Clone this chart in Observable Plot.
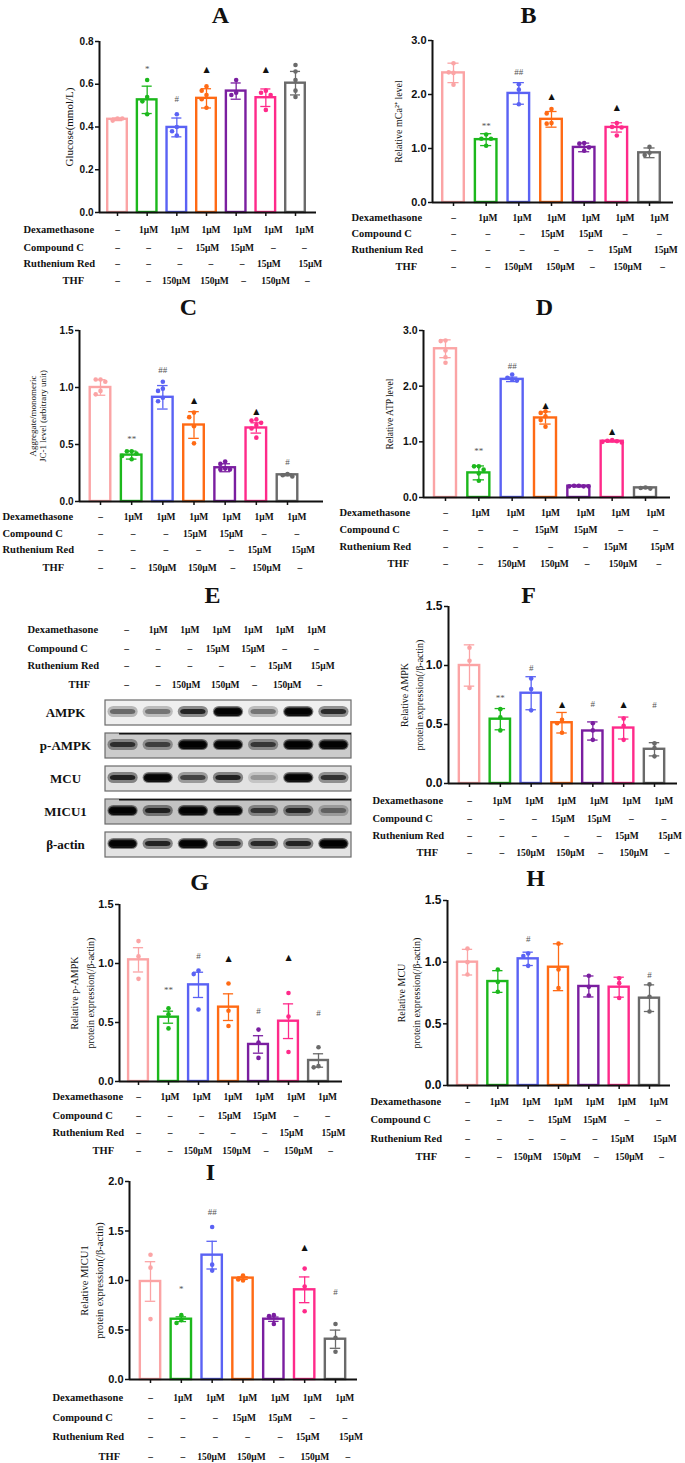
<!DOCTYPE html>
<html><head><meta charset="utf-8">
<script src="https://cdn.jsdelivr.net/npm/d3@7"></script>
<script src="https://cdn.jsdelivr.net/npm/@observablehq/plot@0.6"></script>
<style>
html,body{margin:0;padding:0;background:#fff;}
#page{position:relative;width:685px;height:1463px;overflow:hidden;background:#fff;}
</style></head><body><div id="page"></div>
<script>
// ---------------- DATA ----------------
const groups = ["Control","Dex","Dex+THF","Dex+THF+CC","Dex+CC","Dex+THF+RR","Dex+RR"];
const rowLabels = ["Dexamethasone","Compound C","Ruthenium Red","THF"];
const dexRow  = ["–","1μM","1μM","1μM","1μM","1μM","1μM"];
const ccRow   = ["–","–","–","15μM","15μM","–","–"];
const rrRow   = ["–","–","–","–","–","15μM","15μM"];
const thfRow  = ["–","–","150μM","150μM","–","150μM","–"];
const tableRows = [dexRow, ccRow, rrRow, thfRow];

// A: Glucose
const aMean = [0.436,0.527,0.398,0.534,0.568,0.537,0.605];
const aErr  = [0.006,0.064,0.044,0.045,0.038,0.041,0.055];
const aPts  = [[0.44,0.43,0.44],[0.62,0.54,0.52,0.46],[0.46,0.40,0.38,0.36],[0.59,0.57,0.55,0.53,0.49],[0.62,0.56,0.55],[0.57,0.56,0.55,0.48],[0.69,0.66,0.62,0.57,0.54]];
const aSig  = ["","*","#","▲","","▲",""];
const aSigY = [0,0.672,0.53,0.668,0,0.671,0];
// B: mCa2+
const bMean = [2.40,1.164,2.02,1.54,1.02,1.39,0.92];
const bErr  = [0.18,0.11,0.20,0.145,0.08,0.086,0.09];
const bPts  = [[2.58,2.40,2.41,2.18],[1.26,1.18,1.18,1.05],[2.19,2.09,1.82],[1.73,1.65,1.47,1.46],[1.10,1.09,1.02,0.96],[1.47,1.40,1.39,1.24],[1.03,0.92,0.88]];
const bSig  = ["","**","##","▲","","▲",""];
const bSigY = [0,1.417,2.415,1.965,0,1.768,0];
// C: JC-1
const cMean = [1.0,0.407,0.914,0.671,0.296,0.645,0.234];
const cErr  = [0.068,0.035,0.103,0.117,0.035,0.045,0.008];
const cPts  = [[1.07,1.07,1.05,0.97,0.94],[0.44,0.44,0.42,0.40,0.37],[1.05,0.99,0.97,0.91,0.88],[0.78,0.74,0.66,0.51],[0.35,0.33,0.29,0.28,0.28],[0.72,0.71,0.69,0.67,0.64,0.56],[0.24,0.23,0.22]];
const cSig  = ["","**","##","▲","","▲","#"];
const cSigY = [0,0.548,1.149,0.885,0,0.791,0.349];
// D: ATP
const dMean = [2.672,0.442,2.122,1.429,0.203,1.01,0.173];
const dErr  = [0.16,0.125,0.04,0.11,0.012,0.015,0.01];
const dPts  = [[2.82,2.81,2.64,2.52,2.42],[0.56,0.56,0.50,0.43,0.30],[2.21,2.15,2.12,2.10],[1.55,1.52,1.46,1.39,1.27],[0.21,0.21,0.20,0.20,0.20],[1.03,1.02,1.01,1.00,0.99],[0.18,0.17,0.16]];
const dSig  = ["","**","##","▲","","▲",""];
const dSigY = [0,0.83,2.361,1.656,0,1.189,0];
// E: western blot band darkness (0..1) per lane
const proteins = ["AMPK","p-AMPK","MCU","MICU1","β-actin"];
const ampkBand  = [0.45,0.40,0.80,0.90,0.40,0.90,0.75];
const pampkBand = [0.70,0.60,1.00,0.85,0.65,1.00,0.90];
const mcuBand   = [0.80,0.85,0.60,0.80,0.25,0.90,0.70];
const micu1Band = [0.90,0.80,1.00,0.90,0.65,0.75,0.40];
const actinBand = [0.85,0.80,0.90,0.75,0.75,0.80,1.00];
// F: AMPK
const fMean = [1.0,0.545,0.765,0.515,0.445,0.47,0.29];
const fErr  = [0.175,0.09,0.14,0.087,0.077,0.093,0.056];
const fPts  = [[1.15,1.04,0.81],[0.63,0.56,0.45],[0.89,0.80,0.62],[0.54,0.51,0.43],[0.51,0.45,0.37],[0.55,0.49,0.37],[0.34,0.30,0.23]];
const fSig  = ["","**","#","▲","#","▲","#"];
const fSigY = [0,0.726,0.98,0.673,0.675,0.673,0.661];
// G: p-AMPK
const gMean = [1.031,0.545,0.819,0.63,0.314,0.511,0.178];
const gErr  = [0.103,0.051,0.107,0.113,0.074,0.147,0.057];
const gPts  = [[1.19,1.06,0.87],[0.62,0.57,0.45],[0.94,0.91,0.61],[0.83,0.60,0.47],[0.44,0.33,0.20],[0.75,0.55,0.25],[0.29,0.13,0.12]];
const gSig  = ["","**","#","▲","#","▲","#"];
const gSigY = [0,0.777,1.059,1.045,0.593,1.048,0.579];
// H: MCU
const hMean = [1.0,0.843,1.027,0.959,0.803,0.797,0.708];
const hErr  = [0.104,0.088,0.054,0.19,0.085,0.081,0.108];
const hPts  = [[1.11,1.0,0.90],[0.94,0.84,0.76],[1.07,1.05,0.97],[1.15,0.94,0.79],[0.89,0.80,0.73],[0.87,0.83,0.71],[0.82,0.72,0.60]];
const hSig  = ["","","#","","","","#"];
const hSigY = [0,0,1.189,0,0,0,0.897];
// I: MICU1
const iMean = [0.99,0.609,1.256,1.024,0.609,0.906,0.407];
const iErr  = [0.2,0.024,0.14,0.013,0.022,0.13,0.092];
const iPts  = [[1.26,1.13,0.61],[0.65,0.60,0.57],[1.54,1.16,1.10],[1.05,1.01,1.00],[0.65,0.64,0.56],[1.12,0.94,0.69],[0.56,0.42,0.28]];
const iSig  = ["","*","##","","","▲","#"];
const iSigY = [0,0.912,1.687,0,0,1.333,0.886];

// ---------------- STYLE / LAYOUT ----------------
const colors = ["#FBA4A5","#1CB81C","#5A62F4","#FF6A14","#7A1EA0","#FF2A8A","#6A6A6A"];
const serif = "'Liberation Serif','Times New Roman',serif";
const sans = "'Liberation Sans',Arial,sans-serif";
const W = 685, H = 1463;
const page = document.getElementById("page");
const svgStyle = {position:"absolute", left:"0px", top:"0px", overflow:"visible", background:"transparent", fontFamily: serif};
// small horizontal nudges of the treatment-table cells (layout only)
const rowShift = [
  [0,0,0,0,0,0,0],
  [0,0,0,-0.12,0,0,0],
  [0,0,0,0,0,-0.15,0.2],
  [0,0,-0.12,0.12,0.05,0.08,0.1]
];

function tableMarks(L, xOf, anchorV, anchorH) {
  const m = [];
  tableRows.forEach((row, r) => m.push(Plot.text(row, {x: (d, i) => xOf(i, r), frameAnchor: anchorV, dy: L.rowDy[r],
    fontSize: L.valFont || 9.5, fontWeight: "bold", fontFamily: serif, lineAnchor: "middle", fill: "#111"})));
  rowLabels.forEach((lab, r) => m.push(Plot.text([lab], {frameAnchor: anchorH, dx: (r === 3 ? L.thfX : L.labelX) - L.axisX, dy: L.rowDy[r],
    textAnchor: "start", fontSize: L.labFont || 10.5, fontWeight: "bold", fontFamily: serif, lineAnchor: "middle", fill: "#111"})));
  return m;
}

function barPanel(title, yLabel, mean, err, pts, sig, sigY, L) {
  const s = (L.c6 - L.c0) / 6;
  const xL = (L.axisX - L.c0) / s, xR = (L.xEnd - L.c0) / s;
  const idx = d3.range(7);
  const bars = idx.map(i => ({i, m: mean[i], lo: mean[i] - err[i], hi: mean[i] + err[i], c: colors[i]}));
  const pxPerUnit = (L.yBot - L.yTop) / L.yMax;
  const dots = [];
  idx.forEach(i => {
    const placed = [];
    pts[i].forEach(v => {
      const y = v * pxPerUnit;
      let ox = 0;
      for (const o of [0, -1, 1, -2, 2, -3, 3]) {
        const cx = o * 4.8;
        if (placed.every(p => Math.hypot(p.x - cx, p.y - y) >= 4.6)) { ox = cx; break; }
      }
      placed.push({x: ox, y});
      dots.push({i, v, c: colors[i], off: ox / s});
    });
  });
  const sigs = idx.filter(i => sig[i] && sig[i] !== "▲").map(i => ({i, s: sig[i], y: sigY[i]}));
  const tris = idx.filter(i => sig[i] === "▲").map(i => ({i, s: sig[i], y: sigY[i]}));
  const ticks = d3.range(0, L.yMax + 1e-9, L.step);
  const marks = [
    Plot.rect(bars, {x1: d => d.i - 0.33, x2: d => d.i + 0.33, y1: 0, y2: "m", fill: "white", stroke: "c", strokeWidth: 2.4}),
    Plot.ruleX(bars, {x: "i", y1: "lo", y2: "hi", stroke: "c", strokeWidth: 1.3}),
    Plot.ruleY(bars, {y: "hi", x1: d => d.i - 0.17, x2: d => d.i + 0.17, stroke: "c", strokeWidth: 1.3}),
    Plot.ruleY(bars, {y: "lo", x1: d => d.i - 0.17, x2: d => d.i + 0.17, stroke: "c", strokeWidth: 1.3}),
    Plot.dot(dots, {x: d => d.i + d.off, y: "v", fill: "c", r: 2.3, stroke: "none"}),
    Plot.text(sigs, {x: "i", y: "y", text: "s", fill: "#555", fontSize: 9, fontFamily: serif, lineAnchor: "middle"}),
    Plot.text(tris, {x: "i", y: "y", text: "s", fill: "#111", fontSize: 8, fontFamily: "'DejaVu Sans',sans-serif", lineAnchor: "middle"}),
    Plot.axisY({ticks, tickFormat: d3.format(".1f"), tickSize: 4, tickPadding: 2, fontSize: L.tickFont, fontWeight: "bold", fontFamily: sans, label: null, strokeWidth: 1.5, stroke: "#111", fill: "#111"}),
    Plot.axisX({ticks: idx, tickSize: 4, tickFormat: () => "", label: null, strokeWidth: 1.5, stroke: "#111"}),
    Plot.ruleX([xL], {stroke: "#111", strokeWidth: 2}),
    Plot.ruleY([0], {stroke: "#111", strokeWidth: 2}),
    Plot.text([yLabel], {frameAnchor: "left", dx: L.ylabX - L.axisX, rotate: -90, fontSize: L.ylabFont, fontFamily: serif, lineHeight: L.ylabLH || 1.4, textAnchor: "middle", lineAnchor: "middle", fill: "#111"}),
    Plot.text([title], {frameAnchor: "top-left", dx: L.titleX - L.axisX, dy: L.titleY - L.yTop, fontSize: 24, fontWeight: "bold", fontFamily: serif, textAnchor: "middle", lineAnchor: "middle", fill: "#111"}),
    ...tableMarks(L, (i, r) => i * 1.05 + rowShift[r][i], "bottom", "bottom-left")
  ];
  const svg = Plot.plot({
    width: W, height: H,
    marginLeft: L.axisX, marginRight: W - L.xEnd, marginTop: L.yTop, marginBottom: H - L.yBot,
    x: {type: "linear", domain: [xL, xR]},
    y: {type: "linear", domain: [0, L.yMax]},
    color: {type: "identity"},
    style: svgStyle,
    marks
  });
  page.appendChild(svg);
}

barPanel("A", "Glucose(mmol/L)", aMean, aErr, aPts, aSig, aSigY,
  {axisX:99, yTop:41, yBot:212, xEnd:316, c0:117, c6:295, yMax:0.8, step:0.2, tickFont:10, ylabX:68, ylabFont:11, titleX:220, titleY:15, labelX:23, thfX:62, rowDy:[17,35,51,68]});
barPanel("B", "Relative mCa²⁺ level", bMean, bErr, bPts, bSig, bSigY,
  {axisX:432, yTop:40, yBot:202, xEnd:673, c0:453, c6:649, yMax:3, step:1, tickFont:11, ylabX:397, ylabFont:10, titleX:528, titleY:15, labelX:351, thfX:395, rowDy:[15,31,47,64]});
barPanel("C", "Aggregate/monomeric\nJC-1 level (arbitrary unit)", cMean, cErr, cPts, cSig, cSigY,
  {axisX:79, yTop:330, yBot:501, xEnd:323, c0:100, c6:287, yMax:1.5, step:0.5, tickFont:10, ylabX:37, ylabFont:9, ylabLH:1.15, titleX:188, titleY:307, labelX:2, thfX:42, rowDy:[15,32,48,66]});
barPanel("D", "Relative ATP level", dMean, dErr, dPts, dSig, dSigY,
  {axisX:423, yTop:330, yBot:497, xEnd:670, c0:445, c6:645, yMax:3, step:1, tickFont:10.5, ylabX:388, ylabFont:9.5, titleX:544, titleY:307, labelX:339, thfX:387, rowDy:[15,32,49,66]});
barPanel("F", "Relative AMPK\nprotein expression(/β-actin)", fMean, fErr, fPts, fSig, fSigY,
  {axisX:448, yTop:606, yBot:783, xEnd:677, c0:469, c6:654, yMax:1.5, step:0.5, tickFont:12, ylabX:410, ylabFont:10, ylabLH:1.5, titleX:528, titleY:595, labelX:372, thfX:416, rowDy:[17,35,52,69]});
barPanel("G", "Relative p-AMPK\nprotein expression(/β-actin)", gMean, gErr, gPts, gSig, gSigY,
  {axisX:119, yTop:904, yBot:1081, xEnd:342, c0:138, c6:318, yMax:1.5, step:0.5, tickFont:11, ylabX:80, ylabFont:10, ylabLH:1.6, titleX:199, titleY:882, labelX:52, thfX:92, rowDy:[15,34,51,69]});
barPanel("H", "Relative MCU\nprotein expression(/β-actin)", hMean, hErr, hPts, hSig, hSigY,
  {axisX:447, yTop:900, yBot:1085, xEnd:670, c0:467, c6:649, yMax:1.5, step:0.5, tickFont:12, ylabX:407, ylabFont:10, ylabLH:1.5, titleX:535, titleY:878, labelX:370, thfX:415, rowDy:[16,34,53,71]});
barPanel("I", "Relative MICU1\nprotein expression(/β-actin)", iMean, iErr, iPts, iSig, iSigY,
  {axisX:129, yTop:1181, yBot:1379, xEnd:357, c0:150, c6:335, yMax:2, step:0.5, tickFont:11, ylabX:90, ylabFont:10.5, ylabLH:1.5, titleX:210, titleY:1172, labelX:52, thfX:98, rowDy:[18,38,57,77]});

// ---------------- E: western blot ----------------
(function () {
  const blotBands = [ampkBand, pampkBand, mcuBand, micu1Band, actinBand];
  const blotBg = ["#efefef","#cbcbcb","#e2e2e2","#c3c3c3","#e3e3e3"];
  const bandData = proteins.flatMap((p, r) => blotBands[r].map((v, lane) => ({p, lane, v})));
  const strong = bandData.filter(d => d.v >= 0.85);
  const L = {axisX:105, labelX:27, thfX:68, rowDy:[-71,-52,-35,-16], valFont: 9.5, labFont: 10.5};
  const svg = Plot.plot({
    width: W, height: H,
    marginLeft: 105, marginRight: W - 351, marginTop: 700, marginBottom: H - 858,
    x: {type: "linear", domain: [0, 7], axis: null},
    y: {type: "band", domain: proteins, paddingInner: 0.24, paddingOuter: 0, axis: null},
    color: {type: "identity"},
    style: svgStyle,
    marks: [
      Plot.barX(proteins, {x1: 0, x2: 7, y: d => d, fill: (d, i) => blotBg[i], stroke: "#6a6a6a", strokeWidth: 1.2}),
      Plot.barX(["p-AMPK","MICU1"], {x1: 0.4, x2: 7, y: d => d, fill: "#111", insetBottom: 23.5, ariaLabel: "edge"}),
      Plot.barX(bandData, {x1: d => d.lane + 0.07, x2: d => d.lane + 0.93, y: "p", fill: "#0a0a0a", fillOpacity: d => d.v * 0.55, insetTop: 6, insetBottom: 8, rx: 6, ariaLabel: "bands"}),
      Plot.barX(bandData, {x1: d => d.lane + 0.14, x2: d => d.lane + 0.86, y: "p", fill: "#0a0a0a", fillOpacity: "v", insetTop: 9, insetBottom: 11, rx: 4, ariaLabel: "bands"}),
      Plot.barX(strong, {x1: d => d.lane + 0.1, x2: d => d.lane + 0.9, y: "p", fill: "#000", fillOpacity: 0.85, insetTop: 7.5, insetBottom: 9, rx: 5, ariaLabel: "bands"}),
      Plot.text(proteins, {y: d => d, frameAnchor: "left", dx: -40, textAnchor: "middle", fontSize: 13, fontWeight: "bold", fontFamily: serif, fill: "#111"}),
      Plot.text(["E"], {frameAnchor: "top-left", dx: 212 - 105, dy: 595 - 700, fontSize: 24, fontWeight: "bold", fontFamily: serif, textAnchor: "middle", lineAnchor: "middle", fill: "#111"}),
      ...tableMarks(L, (i, r) => 0.6 + 0.9 * (i + rowShift[r][i]), "top", "top-left")
    ]
  });
  const sel = d3.select(svg);
  const f = sel.append("defs").append("filter").attr("id", "blur").attr("x", "-20%").attr("y", "-60%").attr("width", "140%").attr("height", "220%");
  f.append("feGaussianBlur").attr("stdDeviation", 1.9);
  sel.selectAll('g[aria-label="bands"]').attr("filter", "url(#blur)");
  page.appendChild(svg);
})();
</script></body></html>
